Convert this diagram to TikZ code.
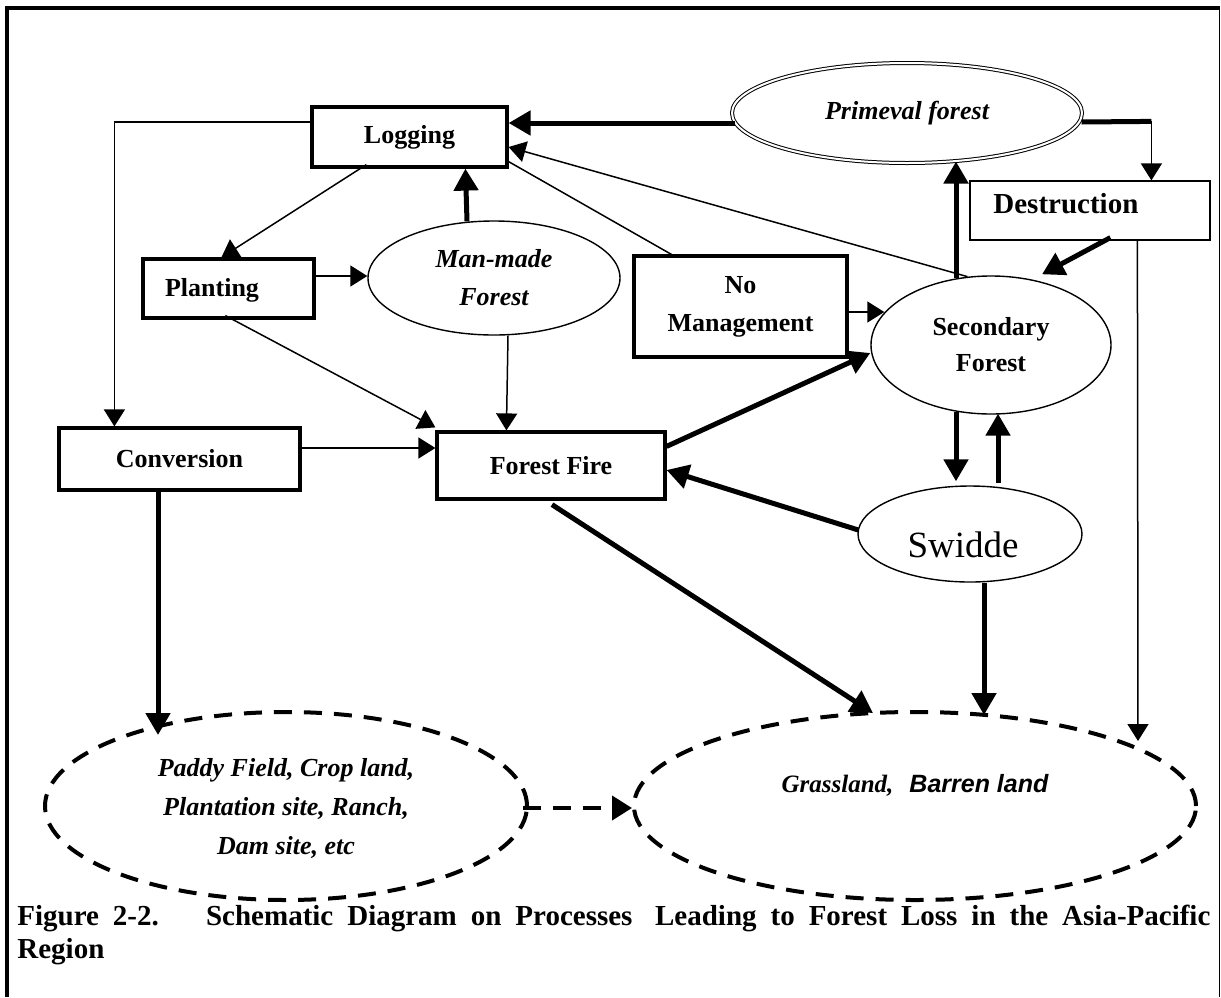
\documentclass[tikz,border=0pt]{standalone}
\usepackage{fontspec}
\setmainfont{Liberation Serif}
\newfontfamily\sansfam{Liberation Sans}
\usetikzlibrary{shapes.geometric,arrows.meta,calc}
\begin{document}
\begin{tikzpicture}[x=0.5pt,y=-0.5pt,
  box/.style={draw, line width=1.6pt, inner sep=0pt, align=center, font=\fontsize{13}{19}\selectfont\bfseries},
  thinbox/.style={draw, line width=0.6pt, inner sep=0pt},
  oval/.style={draw, ellipse, line width=0.7pt, inner sep=0pt, align=center},
  dashoval/.style={draw, ellipse, line width=2pt, dash pattern=on 9pt off 6pt, inner sep=0pt, align=center},
  txt/.style={inner sep=0pt, align=center},
  thn/.style={line width=0.75pt, -{Triangle[length=8.5pt,width=10.5pt]}},
  thk/.style={line width=2.5pt, -{Triangle[length=11pt,width=12pt]}},
  plainline/.style={line width=0.75pt},
  dasharrow/.style={line width=2pt, dash pattern=on 9pt off 6pt, -{Triangle[length=10pt,width=12pt]}},
]
\useasboundingbox (0,0) rectangle (1221,997);
% frame
\draw[line width=1.6pt] (7,997) -- (7,8) -- (1219.5,8);
\draw[line width=0.6pt] (1219.5,8) -- (1219.5,997);

% nodes
\node[box, minimum width=97.5pt, minimum height=30pt] (log) at (409.5,137) {Logging};
\node[box, minimum width=85.5pt, minimum height=29.5pt] (plant) at (228.5,288.5) {};
\node[txt, font=\fontsize{13}{19}\selectfont\bfseries] (planttxt) at (212,290) {Planting};
\node[oval, minimum width=126pt, minimum height=57pt, font=\fontsize{13}{19}\selectfont\bfseries\itshape] (mm) at (494,278) {Man-made\\Forest};
\node[box, minimum width=106.5pt, minimum height=50.5pt] (nomg) at (740.5,306.5) {No\\Management};
\node[oval, minimum width=120pt, minimum height=69pt, font=\fontsize{13}{18}\selectfont\bfseries] (sec) at (991,345) {Secondary\\Forest};
\node[thinbox, minimum width=120pt, minimum height=29.5pt] (dest) at (1090,210.5) {};
\node[txt, anchor=west, font=\fontsize{14.5}{17}\selectfont\bfseries] (desttxt) at (993,204) {Destruction};
\node[oval, double, double distance=1pt, line width=0.5pt, minimum width=175pt, minimum height=50pt, font=\fontsize{13}{16}\selectfont\bfseries\itshape] (prim) at (907,113) {Primeval forest};
\node[box, minimum width=120.5pt, minimum height=31pt] (conv) at (179.5,459) {Conversion};
\node[box, minimum width=114pt, minimum height=33.5pt] (ff) at (551,465.5) {Forest Fire};
\node[oval, minimum width=112pt, minimum height=48pt] (swid) at (970,534) {};
\node[txt, font=\fontsize{18.5}{22}\selectfont] (swidtxt) at (963,545) {Swidde};
\node[dashoval, minimum width=241pt, minimum height=94pt] (paddy) at (286,806) {};
\node[txt, font=\fontsize{13}{19.5}\selectfont\bfseries\itshape] (paddytxt) at (286,808) {Paddy Field, Crop land,\\Plantation site, Ranch,\\Dam site, etc};
\node[dashoval, minimum width=281pt, minimum height=94pt] (grass) at (915,806) {};
\node[txt, anchor=base] (grasstxt) at (915,792) {{\fontsize{12.5}{15}\selectfont\bfseries\itshape Grassland,}\hspace{8pt}{\sansfam\bfseries\itshape\fontsize{12.5}{15}\selectfont Barren land}};

% caption
\node[anchor=north west, inner sep=0pt, text width=596.5pt, align=justify, font=\fontsize{14.5}{16.5}\selectfont\bfseries] (cap) at (17,905)
  {Figure 2-2.\hspace{0.6em} Schematic Diagram on Processes\hspace{0.3em} Leading to Forest Loss in the Asia-Pacific\linebreak Region};

% connectors
\draw[thk] ($(prim.west)+(3,10)$) -- ($(log.east)+(0,-14)$);
\draw[thn] (sec.109) -- ($(log.east)+(0,10)$);
\draw[plainline] ($(log.south east)+(0,-7)$) -- ($(nomg.north west)+(39,0)$);
\draw[thn] ($(log.west)+(0,-15)$) -| ($(conv.north west)+(57,0)$);
\draw[thn] ($(log.south west)+(56,-4)$) -- ($(plant.north west)+(80,0)$);
\draw[thk] ($(mm.north)+(-27,1)$) -- ($(log.south west)+(155,0)$);
\draw[thn] ($(plant.east)+(0,-12.5)$) -- ($(mm.west)+(0,-2)$);
\draw[thn] ($(plant.south west)+(84,-4)$) -- ($(ff.north west)+(0,-3)$);
\draw[thn] ($(mm.south)+(14,0)$) -- ($(ff.north west)+(71,0)$);
\draw[thn] ($(conv.east)+(0,-11)$) -- ($(ff.west)+(0,-17.5)$);
\coordinate (pd) at ($(dest.north west)+(182,-59)$);
\draw[line width=2.5pt] ($(prim.east)+(-1,9)$) -- (pd);
\draw[thn] (pd) -- ($(dest.north west)+(182,0)$);
\draw[thk] ($(dest.south west)+(141,-3)$) -- ($(sec.north)+(51,-1)$);
\draw[thn] ($(dest.south west)+(168,0)$) -- ($(grass.north)+(223,31)$);
\draw[thk] ($(sec.north)+(-35,3)$) -- ($(prim.south)+(49,-2)$);
\draw[thn] ($(nomg.east)+(0,5.5)$) -- ($(sec.west)+(14,-33)$);
\draw[thk] ($(ff.north east)+(0,16)$) -- ($(sec.west)+(0,8)$);
\draw[thk] ($(sec.south)+(-35,-3)$) -- ($(swid.north)+(-14,-4)$);
\draw[thk] ($(swid.north)+(28,-2)$) -- ($(sec.south)+(7,-1)$);
\draw[thk] ($(swid.west)+(1,-4)$) -- ($(ff.east)+(0,4.5)$);
\draw[thk] ($(swid.south)+(14,0)$) -- ($(grass.north)+(69,5)$);
\draw[thk] ($(ff.south)+(1,4)$) -- ($(grass.north)+(-42,3)$);
\draw[thk] ($(conv.south)+(-21.5,0)$) -- ($(paddy.north)+(-128,25)$);
\draw[dasharrow] ($(paddy.east)+(-6,2)$) -- ($(grass.west)+(0,2)$);
\end{tikzpicture}
\end{document}
